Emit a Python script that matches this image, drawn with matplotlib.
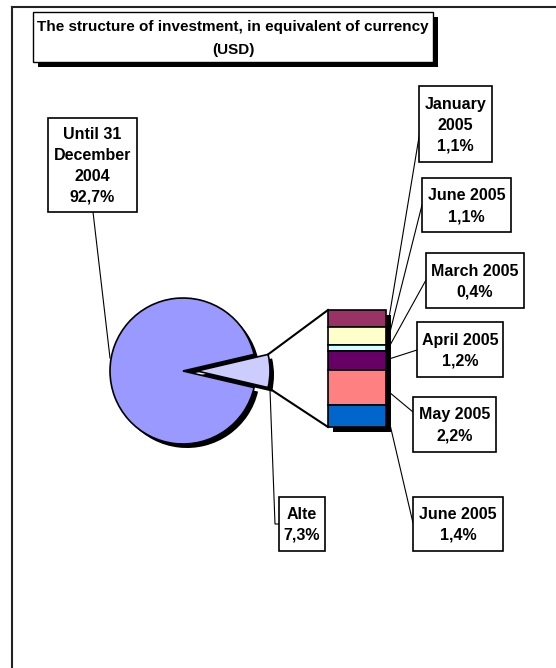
import numpy as np
import matplotlib
matplotlib.use('Agg')
import matplotlib.pyplot as plt
from matplotlib.patches import Rectangle

plt.rcParams['font.family'] = ['Liberation Sans', 'DejaVu Sans']

# dati
pie_labels = ['Until 31\nDecember\n2004', 'Alte']
pie_values = [92.7, 7.3]
pie_colors = ['#9999FF', '#CCCCFF']

bar_labels = ['January\n2005', 'June 2005', 'March 2005', 'April 2005', 'May 2005', 'June 2005']
bar_values = [1.1, 1.1, 0.4, 1.2, 2.2, 1.4]
bar_colors = ['#993366', '#FFFFCC', '#CCFFFF', '#660066', '#FF8080', '#0066CC']

title = 'The structure of investment, in equivalent of currency\n(USD)'

def fmt(v):
    return ('%.1f%%' % v).replace('.', ',')

# layout (pixel)
W, H = 556, 668
pie_c = (183, 371)
pie_r = 73
expl = 14
bar_x, bar_w = 357, 58
bar_top, bar_h = 310, 117

fig = plt.figure(figsize=(W / 100, H / 100), dpi=100)
ax = fig.add_axes([0, 0, 1, 1])

# torta con ombra
start = pie_values[1] / 100 * 180
ax.pie(pie_values, colors=['black', 'black'], startangle=start, explode=[0, expl],
       center=(pie_c[0] + 4, pie_c[1] + 4), radius=pie_r, wedgeprops=dict(linewidth=0))
ax.pie(pie_values, colors=pie_colors, startangle=start, explode=[0, expl],
       center=pie_c, radius=pie_r,
       wedgeprops=dict(edgecolor='black', linewidth=1.2))

# barra impilata con ombra
scale = bar_h / sum(bar_values)
heights = np.array(bar_values) * scale
bottoms = bar_top + np.concatenate([[0], np.cumsum(heights)[:-1]])
ax.bar(bar_x + 5, heights.sum(), bottom=bar_top + 5, width=bar_w, color='black', zorder=2)
ax.bar(bar_x, heights, bottom=bottoms, width=bar_w, color=bar_colors,
       edgecolor='black', linewidth=1.2, zorder=3)

# linee di collegamento torta-barra
half = np.deg2rad(pie_values[1] / 100 * 180)
ex = pie_c[0] + expl + pie_r * np.cos(half)
ax.plot([ex, bar_x - bar_w / 2], [pie_c[1] - pie_r * np.sin(half), bar_top], color='black', lw=1.5, zorder=4)
ax.plot([ex, bar_x - bar_w / 2], [pie_c[1] + pie_r * np.sin(half), bar_top + bar_h], color='black', lw=1.5, zorder=4)

# etichette (riquadri: x0, x1, y0, y1)
tk = dict(ha='center', va='center', fontsize=11.5, fontweight='bold',
          linespacing=1.5, zorder=7)

def etichetta(testo, b, lead):
    ax.add_patch(Rectangle((b[0], b[2]), b[1] - b[0], b[3] - b[2], fc='white',
                           ec='black', lw=1.2, zorder=6))
    ax.text((b[0] + b[1]) / 2, (b[2] + b[3]) / 2 + 1, testo, **tk)
    ax.plot([q[0] for q in lead], [q[1] for q in lead], color='black', lw=0.8, zorder=1)

pie_box = [(48, 137, 118, 212), (279, 325, 497, 551)]
pie_lead = [[(93, 212), (110, 358)], [(279, 524), (275, 524), (270, 390)]]
for lab, v, b, ld in zip(pie_labels, pie_values, pie_box, pie_lead):
    etichetta(lab + '\n' + fmt(v), b, ld)

bar_box = [(419, 492, 86, 162), (422, 511, 178, 232), (426, 524, 253, 308),
           (417, 503, 322, 377), (413, 496, 397, 452), (413, 503, 497, 551)]
bar_lead = [[(421, 125), (389, 318)], [(422, 205), (389, 336)], [(426, 280), (389, 347)],
            [(417, 350), (389, 359)], [(413, 412), (389, 392)], [(413, 523), (388, 416)]]
for lab, v, b, ld in zip(bar_labels, bar_values, bar_box, bar_lead):
    etichetta(lab + '\n' + fmt(v), b, ld)

# titolo con ombra
ax.add_patch(Rectangle((38, 17), 400, 50, fc='black', ec='none', zorder=5))
ax.add_patch(Rectangle((33, 12), 400, 50, fc='white', ec='black', lw=1, zorder=6))
ax.text(233, 38.5, title, ha='center', va='center', fontsize=11, fontweight='bold',
        linespacing=1.8, zorder=7)

# cornice
ax.plot([12, 12], [7, H], color='#222222', lw=1.5)
ax.plot([12, W], [7, 7], color='#222222', lw=1.5)

ax.set_xlim(0, W)
ax.set_ylim(H, 0)
ax.set_aspect('auto')
ax.axis('off')

plt.savefig('out.png', dpi=100)
